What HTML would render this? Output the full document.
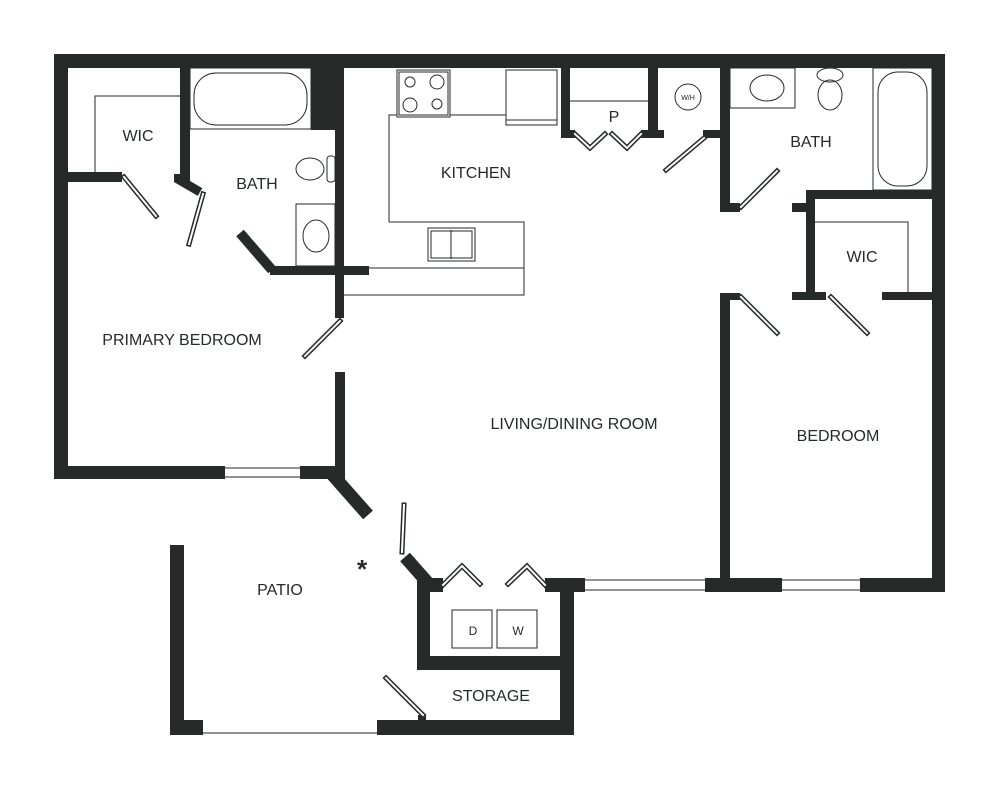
<!DOCTYPE html>
<html><head><meta charset="utf-8"><style>
html,body{margin:0;padding:0;background:#fff;}
svg{display:block;}
text{font-family:"Liberation Sans",sans-serif;font-size:16px;fill:#262a29;text-anchor:middle;}
</style></head><body>
<svg width="1000" height="790" viewBox="0 0 1000 790" xmlns="http://www.w3.org/2000/svg">
<g fill="#262a29">
<!-- outer -->
<rect x="54" y="54" width="891" height="14"/>
<rect x="54" y="54" width="14" height="425"/>
<rect x="932" y="54" width="13" height="538"/>
<rect x="54" y="466" width="171" height="13"/>
<rect x="300" y="466" width="40" height="13"/>
<rect x="335" y="372" width="10" height="107"/>
<!-- primary bath/wic -->
<rect x="180" y="68" width="10" height="114"/>
<rect x="68" y="172" width="54" height="10"/>
<rect x="174" y="174" width="16" height="8"/>
<rect x="311" y="68" width="24" height="62"/>
<rect x="335" y="68" width="9" height="250"/>
<rect x="270" y="266" width="99" height="9"/>
<!-- pantry / wh -->
<rect x="561" y="68" width="9" height="70"/>
<rect x="561" y="130" width="14" height="8"/>
<rect x="648" y="68" width="10" height="70"/>
<rect x="641" y="130" width="23" height="8"/>
<rect x="720" y="68" width="10" height="144"/>
<rect x="703" y="130" width="17" height="8"/>
<rect x="720" y="203" width="20" height="9"/>
<!-- right bath/wic -->
<rect x="806" y="190" width="126" height="9"/>
<rect x="806" y="190" width="9" height="110"/>
<rect x="792" y="203" width="14" height="9"/>
<rect x="792" y="292" width="34" height="8"/>
<rect x="882" y="292" width="50" height="8"/>
<rect x="720" y="293" width="10" height="299"/>
<rect x="720" y="293" width="20" height="7"/>
<!-- bottom -->
<rect x="545" y="578" width="40" height="14"/>
<rect x="705" y="578" width="77" height="14"/>
<rect x="860" y="578" width="85" height="14"/>
<!-- storage -->
<rect x="417" y="578" width="26" height="14"/>
<rect x="417" y="578" width="13" height="92"/>
<rect x="417" y="656" width="157" height="14"/>
<rect x="560" y="578" width="14" height="157"/>
<rect x="377" y="720" width="197" height="15"/>
<rect x="418" y="715" width="8" height="6"/>
<rect x="170" y="545" width="14" height="190"/>
<rect x="170" y="720" width="33" height="15"/>
</g>
<g stroke="#262a29" fill="none">
<path d="M176 178 L200 192" stroke-width="9"/>
<path d="M240 233 L272 270" stroke-width="10"/>
<path d="M330 472 L368 515" stroke-width="13"/>
<path d="M405 557 L428 583" stroke-width="13"/>
</g>
<!-- windows -->
<g stroke="#262a29" stroke-width="1" fill="none">
<line x1="225" y1="468" x2="300" y2="468"/><line x1="225" y1="477" x2="300" y2="477"/>
<line x1="585" y1="580" x2="705" y2="580"/><line x1="585" y1="590" x2="705" y2="590"/>
<line x1="782" y1="580" x2="860" y2="580"/><line x1="782" y1="590" x2="860" y2="590"/>
<line x1="203" y1="733" x2="377" y2="733"/>
<!-- wic lines -->
<polyline points="95,172 95,96 180,96"/>
<polyline points="815,222 908,222 908,292"/>
<!-- tub left -->
<rect x="190" y="68" width="121" height="61"/>
<rect x="194" y="73" width="113" height="52" rx="22"/>
<!-- toilet left -->
<ellipse cx="310" cy="169" rx="14" ry="11"/>
<rect x="327" y="156" width="8" height="26" rx="3"/>
<rect x="296" y="204" width="39" height="62"/>
<ellipse cx="316" cy="236" rx="13" ry="16"/>
<!-- kitchen -->
<rect x="397" y="70" width="53" height="47"/>
<rect x="399" y="72" width="49" height="43"/>
<circle cx="410" cy="82" r="5"/><circle cx="437" cy="82" r="7"/>
<circle cx="410" cy="105" r="7"/><circle cx="437" cy="104" r="5"/>
<polyline points="389,222 389,115 397,115"/><line x1="450" y1="115" x2="506" y2="115"/>
<rect x="506" y="70" width="51" height="55"/><line x1="506" y1="120" x2="557" y2="120"/>
<polyline points="389,222 524,222 524,295 344,295"/>
<line x1="369" y1="268" x2="524" y2="268"/>
<rect x="428" y="228" width="47" height="33"/><line x1="451" y1="230" x2="451" y2="259"/>
<rect x="431" y="231" width="41" height="27"/>
<!-- pantry -->
<line x1="570" y1="101" x2="648" y2="101"/>
<circle cx="688" cy="97" r="13"/>
<!-- right bath -->
<rect x="730" y="68" width="65" height="40"/>
<ellipse cx="767" cy="88" rx="17" ry="13"/>
<ellipse cx="830" cy="75" rx="13" ry="7"/>
<ellipse cx="830" cy="95" rx="12" ry="15"/>
<rect x="873" y="68" width="59" height="122"/>
<rect x="878" y="72" width="49" height="114" rx="20"/>
<!-- D W -->
<rect x="452" y="610" width="40" height="38"/>
<rect x="497" y="610" width="40" height="38"/>
</g>
<!-- doors -->
<g stroke="#262a29" stroke-width="5" fill="none" stroke-linecap="square">
<path d="M124 177 L156 216"/><path d="M203 194 L189 244"/>
<path d="M340 321 L305 356"/>
<path d="M575 134 L590 148 L605 134 M612 134 L627 148 L641 134"/>
<path d="M704 138 L666 170"/><path d="M741 207 L777 171"/>
<path d="M741 297 L777 333"/><path d="M831 297 L867 333"/>
<path d="M404 505 L402 552"/>
<path d="M443 585 L462 566 L480 584 M508 584 L527 566 L545 585"/>
<path d="M386 678 L423 715"/>
</g>
<g stroke="#fff" stroke-width="2" fill="none" stroke-linecap="square">
<path d="M124 177 L156 216"/><path d="M203 194 L189 244"/>
<path d="M340 321 L305 356"/>
<path d="M575 134 L590 148 L605 134 M612 134 L627 148 L641 134"/>
<path d="M704 138 L666 170"/><path d="M741 207 L777 171"/>
<path d="M741 297 L777 333"/><path d="M831 297 L867 333"/>
<path d="M404 505 L402 552"/>
<path d="M443 585 L462 566 L480 584 M508 584 L527 566 L545 585"/>
<path d="M386 678 L423 715"/>
</g>
<text x="138" y="141">WIC</text>
<text x="257" y="189">BATH</text>
<text x="476" y="178">KITCHEN</text>
<text x="614" y="122">P</text>
<text x="688" y="100" style="font-size:7px">W/H</text>
<text x="811" y="147">BATH</text>
<text x="862" y="262">WIC</text>
<text x="182" y="345">PRIMARY BEDROOM</text>
<text x="574" y="429">LIVING/DINING ROOM</text>
<text x="838" y="441">BEDROOM</text>
<text x="280" y="595">PATIO</text>
<text x="491" y="701">STORAGE</text>
<text x="473" y="635" style="font-size:12px">D</text>
<text x="518" y="635" style="font-size:12px">W</text>
<text x="362" y="578" style="font-size:26px;font-weight:bold">*</text>
</svg>
</body></html>
